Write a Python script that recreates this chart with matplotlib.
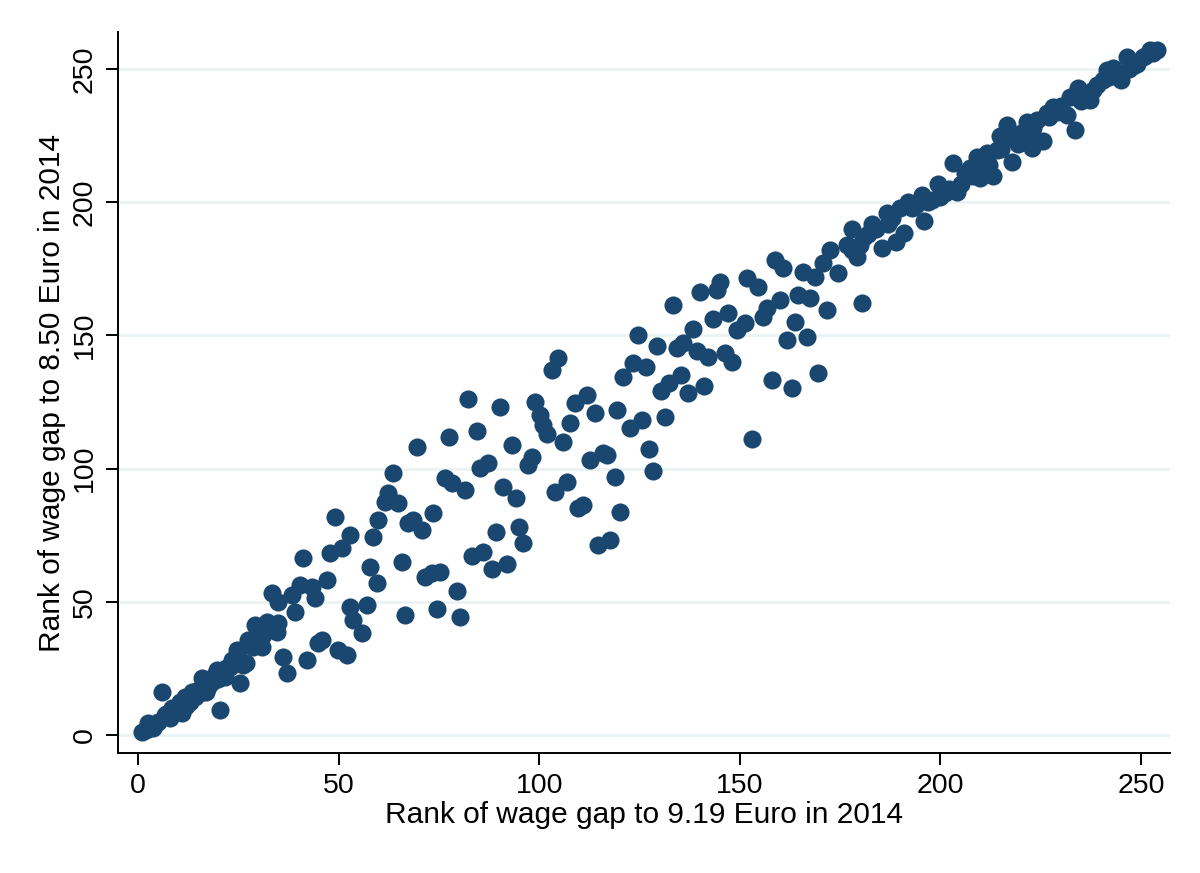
import matplotlib
matplotlib.use("Agg")
import matplotlib.pyplot as plt

# rank of wage gap to 9.19 Euro (x) vs rank of wage gap to 8.50 Euro (y)
rank_919 = [
    1, 3.7, 2.5, 6, 8, 6.7, 9.2, 11, 10.5, 11.7, 13, 14.2, 15.5, 16, 17.4, 18.4, 20.4, 19.7,
    21.7, 23, 24.6, 25.4, 26.2, 27.4, 28.7, 29.2, 31.2, 32.2, 34.6, 33.4, 34.9, 36.1, 37.1,
    38.4, 39.1, 40.4, 41.1, 42.1, 43.3, 44.1, 44.9, 45.9, 47.1, 47.9, 49, 50.8, 52.8, 49.9,
    52, 52.8, 53.6, 55.8, 57, 58.6, 57.8, 59.6, 59.8,
    2, 4, 5, 7, 8.5, 12, 13.5, 15, 17, 19, 20, 22, 23.5, 25, 27, 30, 31, 33, 35,
    61.6, 62.3, 63.6, 64.8, 65.8, 66.5, 67.3, 68.5, 69.5, 70.8, 71.5, 73.3, 73.5, 74.5, 75.3,
    76.5, 77.5, 78.3, 79.5, 80.3, 81.5, 82.3, 83.3, 84.5, 85.2, 86, 87.2, 88.2, 89.2, 90.2,
    91, 92, 93.2, 94.2, 95, 96, 97.2, 98.2, 99, 100.2, 101, 102, 103.2, 104.7, 103.9, 105.9,
    106.9, 107.7, 109, 109.7, 110.9, 112, 112.7, 114, 114.7, 115.9, 116.9, 117.6, 118.9,
    119.4, 120.1, 120.9,
    122.6, 123.4, 124.6, 125.6, 126.6, 127.4, 128.4, 129.4, 130.4, 131.4, 132.4, 133.4,
    134.3, 135.3, 135.8, 137.1, 138.3, 139.3, 140.1, 141, 142, 143.3, 144.3, 145, 146.3,
    147, 148, 149.3, 151.3, 151.8, 153, 154.5, 155.8, 156.8, 158, 158.8, 160, 160.8, 161.8,
    163, 163.8, 164.5, 165.8, 166.7, 167.5, 168.7, 169.5, 170.7, 171.7, 172.5, 174.5, 176.7,
    179.2, 180.5,
    178, 178, 181, 183, 185.4, 186.7, 189, 190, 191, 192, 195.4, 196, 198, 199.4, 201, 203,
    204, 206, 207.4, 209, 209.9, 210.4, 211.6, 213, 214, 214.9, 216.6, 217.8, 219.3, 221.6,
    222.8, 222.8, 224, 225.6, 226.6, 228, 231.5, 232.3, 233.5, 234.3, 237.3, 240.5, 241.5,
    243, 245, 246.5, 249, 250.5, 252.2,
    180, 182, 184, 187, 188, 193, 194, 197, 200, 202, 205, 208, 212, 215, 218, 220, 223,
    227, 229, 230, 235, 236, 238, 239, 242, 244, 247, 248, 251, 253, 254,
]
rank_850 = [
    1.2, 2.6, 4.5, 16, 6.4, 7.5, 9.4, 8.3, 12.4, 14.3, 12.4, 14.3, 15.8, 21.4, 18, 20, 9.4,
    24.4, 21.8, 25.5, 32, 19.5, 26.3, 35.7, 33, 41.3, 37.5, 42.4, 38.7, 53.3, 50, 29.3, 23.3,
    52.6, 46, 56.3, 66.4, 28.2, 55.6, 51.4, 34.5, 35.7, 58.2, 68.3, 81.8, 70, 75, 32,
    30, 48, 43.2, 38.3, 48.8, 74.3, 63, 57, 80.7,
    2, 3.5, 5, 8, 10, 11, 16, 17, 16, 22, 21, 25, 28, 30, 27, 36, 33, 40, 42,
    87.5, 91, 98.3, 87, 65, 45, 79.6, 80.7, 108, 77, 59.3, 60.8, 83.3, 47.3, 61.2,
    96.5, 112, 94.6, 54, 44.3, 92, 126, 67, 114, 100.2, 68.7, 102, 62.3, 76.2, 123,
    93, 64.2, 109, 89, 78, 72, 101.4, 104.4, 125, 120, 116.4, 113, 137, 141.5, 91.2, 110,
    95, 117, 124.6, 85.2, 86.3, 127.6, 103.2, 121, 71.3, 105.8, 105, 73.2, 96.8,
    122, 83.7, 134.4,
    115.2, 139.6, 150, 118.2, 138, 107.4, 99, 146, 129, 119.4, 132, 161.4,
    145.3, 135, 147, 128.3, 152.4, 144.2, 166.3, 131, 142, 156, 167, 170, 143.4,
    158.4, 140, 152, 154.6, 171.5, 111, 168, 157, 160.3, 133.3, 178.3, 163.3, 175.3, 148.3,
    130.2, 155, 165, 173.8, 149.4, 164, 172, 136, 177, 159.5, 182, 173.4, 184,
    179.4, 162,
    190, 182, 187, 192, 182.8, 196, 185, 198, 188.4, 200, 202.7, 193, 201, 207, 203.5, 214.7,
    204, 211, 213, 217, 209, 215, 218.5, 210, 219.6, 225, 229, 215, 222, 230,
    224.5, 220.3, 231, 223, 233.5, 235.7, 232.7, 239.5, 227, 243, 238.4, 246, 249.6,
    250.4, 246, 254.5, 252, 254.5, 257.3,
    184, 188, 190, 192, 194, 198, 199, 200, 202, 205, 207, 210, 214, 220, 224, 226, 228,
    232, 234, 236, 238, 240, 242, 244, 247, 249, 250, 251, 255, 256, 257,
]

x_ticks = [0, 50, 100, 150, 200, 250]
y_ticks = [0, 50, 100, 150, 200, 250]

plt.rcParams['font.family'] = ['Liberation Sans', 'DejaVu Sans']

fig = plt.figure(figsize=(12, 8.73), dpi=100)
ax = fig.add_axes([0.0983, 0.1375, 0.8767, 0.8258])

ax.scatter(rank_919, rank_850, s=170, color='#1a476f', linewidths=0, zorder=3)

ax.set_xlim(-5, 257.2)
ax.set_ylim(-6.8, 263.9)
ax.set_xticks(x_ticks)
ax.set_yticks(y_ticks)
ax.yaxis.grid(True, color='#eaf2f3', linewidth=2, zorder=0)
ax.set_axisbelow(True)

for side in ['top', 'right']:
    ax.spines[side].set_visible(False)
for side in ['left', 'bottom']:
    ax.spines[side].set_linewidth(1.4)

ax.tick_params(axis='both', length=8.6, width=1.4, labelsize=20.5, direction='out', pad=6)
plt.setp(ax.get_yticklabels(), rotation=90, va='center')

ax.set_xlabel("Rank of wage gap to 9.19 Euro in 2014", fontsize=21.5, labelpad=1)
ax.set_ylabel("Rank of wage gap to 8.50 Euro in 2014", fontsize=21.5, labelpad=4)

fig.savefig("out.png", dpi=100, facecolor='white')
